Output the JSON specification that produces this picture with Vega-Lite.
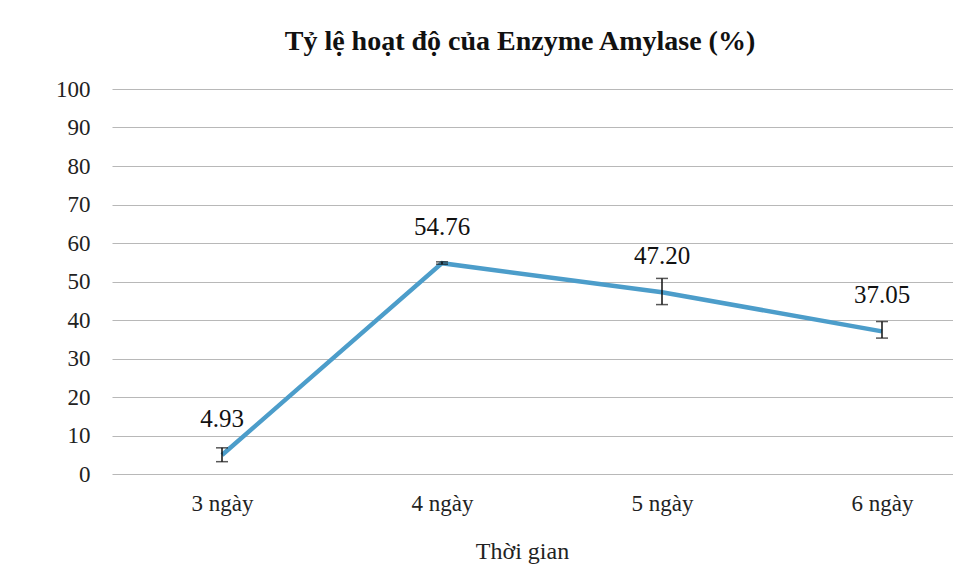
{
  "$schema": "https://vega.github.io/schema/vega-lite/v6.json",
  "autosize": {"type": "none"},
  "width": 880,
  "height": 385,
  "padding": {"left": 112, "top": 89, "right": 0, "bottom": 97},
  "background": "white",
  "title": {
    "text": "Tỷ lệ hoạt độ của Enzyme Amylase (%)",
    "font": "Liberation Serif",
    "fontSize": 28,
    "fontWeight": "bold",
    "color": "#111",
    "anchor": "middle",
    "dx": -32,
    "offset": 22
  },
  "data": {
    "values": [
      {"day": "3 ngày", "value": 4.93, "lo": 3.2, "hi": 6.8, "label": "4.93"},
      {"day": "4 ngày", "value": 54.76, "lo": 54.5, "hi": 55.1, "label": "54.76"},
      {"day": "5 ngày", "value": 47.2, "lo": 44.0, "hi": 50.8, "label": "47.20"},
      {"day": "6 ngày", "value": 37.05, "lo": 35.3, "hi": 39.6, "label": "37.05"}
    ]
  },
  "encoding": {
    "x": {
      "field": "day",
      "type": "nominal",
      "sort": null,
      "scale": {"type": "point", "padding": 0.5},
      "axis": {
        "title": "Thời gian",
        "labelAngle": 0,
        "labelFont": "Liberation Serif",
        "labelFontSize": 23,
        "labelColor": "#222",
        "labelPadding": 18,
        "ticks": false,
        "domain": false,
        "grid": false,
        "titleFont": "Liberation Serif",
        "titleFontSize": 24,
        "titleFontWeight": "normal",
        "titleColor": "#222",
        "titlePadding": 24,
        "titleX": 410
      }
    }
  },
  "layer": [
    {
      "mark": {"type": "line", "color": "#4C9DCA", "strokeWidth": 4.5},
      "encoding": {
        "y": {
          "field": "value",
          "type": "quantitative",
          "scale": {"domain": [0, 100], "nice": false},
          "axis": {
            "title": null,
            "tickCount": 10,
            "labelOverlap": false,
            "labelSeparation": 0,
            "labelFont": "Liberation Serif",
            "labelFontSize": 23,
            "labelColor": "#222",
            "labelPadding": 22,
            "ticks": false,
            "domain": false,
            "grid": true,
            "gridColor": "#b8b8b8",
            "gridWidth": 1.2
          }
        }
      }
    },
    {
      "mark": {"type": "rule", "color": "#111", "strokeWidth": 1.5},
      "encoding": {
        "y": {"field": "lo", "type": "quantitative"},
        "y2": {"field": "hi"}
      }
    },
    {
      "mark": {"type": "tick", "orient": "horizontal", "color": "#111", "size": 12, "thickness": 1.5},
      "encoding": {
        "y": {"field": "lo", "type": "quantitative"}
      }
    },
    {
      "mark": {"type": "tick", "orient": "horizontal", "color": "#111", "size": 12, "thickness": 1.5},
      "encoding": {
        "y": {"field": "hi", "type": "quantitative"}
      }
    },
    {
      "mark": {"type": "text", "dy": -36, "font": "Liberation Serif", "fontSize": 25, "color": "#111"},
      "encoding": {
        "y": {"field": "value", "type": "quantitative"},
        "text": {"field": "label"}
      }
    }
  ],
  "config": {"view": {"stroke": null}, "font": "Liberation Serif"}
}
